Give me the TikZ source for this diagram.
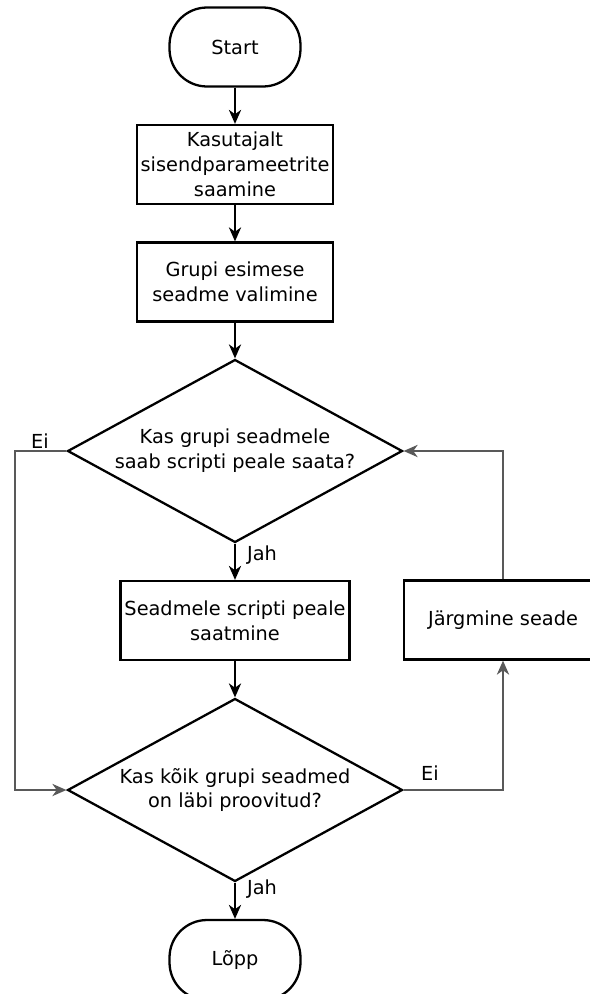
\documentclass[tikz,border=0pt]{standalone}
\usepackage{fontspec}
\setmainfont{DejaVu Sans}
\usepackage{tikz}
\usetikzlibrary{shapes}
\usetikzlibrary{math}
\usetikzlibrary{arrows.meta}

\begin{document}
\begin{tikzpicture}[x = 0.02cm, y = -0.02cm,
	box/.style = {draw, line width = 1.3pt, align = center, inner sep = 0pt, font = \fontsize{11}{14.2}\selectfont},
	term/.style = {box, rounded corners = 0.75cm, minimum width = 2.62cm, minimum height = 1.58cm},
	stepbox/.style = {box, minimum height = 1.58cm},
	ask/.style = {box, diamond, shape aspect = 1.82, minimum width = 6.7cm, minimum height = 3.66cm},
	flow/.style = {line width = 0.8pt, -{Stealth[length = 8pt, width = 7pt, inset = 2.5pt]}},
	back/.style = {flow, draw = black!65},
	tag/.style = {font = \fontsize{11}{14.2}\selectfont}]

	\useasboundingbox (0,0) rectangle (589,994);

	\tikzmath{\xm = 235;};
	\tikzmath{\xr = 503;};
	\tikzmath{\xl = 15;};

	% main column
	\node [term] (start) at (\xm,47) {Start};
	\node [stepbox, minimum width = 3.92cm] (input) at (\xm,164.5) {Kasutajalt\\sisendparameetrite\\saamine};
	\node [stepbox, minimum width = 3.92cm] (first) at (\xm,282) {Grupi esimese\\seadme valimine};
	\node [ask] (canSend) at (\xm,451) {Kas grupi seadmele\\saab scripti peale saata?};
	\node [stepbox, minimum width = 4.58cm] (send) at (\xm,620.5) {Seadmele scripti peale\\saatmine};
	\node [ask] (allDone) at (\xm,790) {Kas kõik grupi seadmed\\on läbi proovitud?};
	\node [term, minimum height = 1.6cm] (stop) at (\xm,960) {Lõpp};

	% right column
	\node [stepbox, minimum width = 3.96cm] (next) at (\xr,620) {Järgmine seade};

	\draw [flow] (start) -- (input);
	\draw [flow] (input) -- (first);
	\draw [flow] (first) -- (canSend);
	\draw [flow] (canSend) -- (send);
	\draw [flow] (send) -- (allDone);
	\draw [flow] (allDone) -- (stop);

	% loops
	\coordinate (leftTop) at (\xl,451);
	\draw [back] (canSend.west) -- (leftTop) |- (allDone.west);
	\draw [back] (allDone.east) -| (next.south);
	\draw [back] (next.north) |- (canSend.east);

	\node [tag] (eiLeft) at (40,441) {Ei};
	\node [tag] (jahTop) at (262,555) {Jah};
	\node [tag] (eiRight) at (430,773) {Ei};
	\node [tag] (jahLow) at (262,889) {Jah};

\end{tikzpicture}
\end{document}
